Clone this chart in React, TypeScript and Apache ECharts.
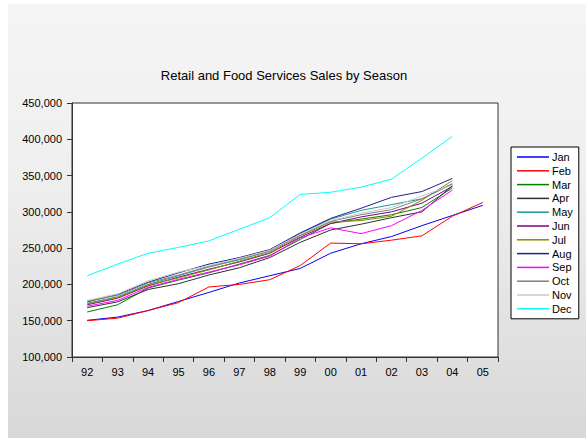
import React, { useEffect, useRef } from "react";
import * as echarts from "echarts";

const years = ["92", "93", "94", "95", "96", "97", "98", "99", "00", "01", "02", "03", "04", "05"];
const yTicks = [100000, 450000, 50000];

const jan = [150500, 155000, 164000, 176500, 189000, 202000, 212000, 222000, 243000, 256000, 266000, 281000, 295000, 309000];
const feb = [150000, 153500, 164000, 175000, 196500, 200000, 206500, 226000, 257000, 256000, 261000, 267000, 294000, 313000];
const mar = [162000, 172000, 195000, 206000, 216000, 228000, 240000, 262000, 284000, 290000, 296000, 306000, 333000];
const apr = [168000, 176000, 193000, 201000, 213000, 223000, 237000, 258000, 275000, 283000, 292000, 300000, 336000];
const may = [174000, 183000, 200000, 212000, 224000, 234000, 246000, 270000, 290000, 302000, 310000, 318000, 338000];
const jun = [172000, 181000, 198000, 210000, 221000, 231000, 243000, 265000, 284000, 293000, 300000, 312000, 335000];
const jul = [173000, 182000, 199000, 209000, 220000, 232000, 244000, 267000, 286000, 288000, 294000, 316000, 343000];
const aug = [176000, 186000, 203000, 216000, 228000, 237000, 248000, 271000, 291000, 305000, 320000, 328000, 346000];
const sep = [170000, 178000, 196000, 207000, 217000, 227000, 239000, 264000, 278000, 270000, 281000, 302000, 330000];
const oct = [177000, 185000, 202000, 213000, 225000, 235000, 246000, 268000, 287000, 296000, 303000, 318000, 339000];
const nov = [178000, 187000, 205000, 217000, 226000, 236000, 247000, 269000, 288000, 298000, 306000, 322000, 337000];
const dec = [212000, 228000, 243000, 251000, 260000, 276000, 292000, 324000, 327000, 334000, 345000, 374000, 404000];

const seriesNames = ["Jan", "Feb", "Mar", "Apr", "May", "Jun", "Jul", "Aug", "Sep", "Oct", "Nov", "Dec"];
const seriesData = [jan, feb, mar, apr, may, jun, jul, aug, sep, oct, nov, dec];
const seriesColors = [
  "#0000ff", "#ff0000", "#008000", "#303030", "#1a9a9a", "#800080",
  "#8a8a00", "#20208a", "#ff00ff", "#808080", "#c8c8c8", "#00ffff",
];

const FONT = "'Liberation Sans', Arial, sans-serif";

export default function App() {
  const ref = useRef<HTMLDivElement>(null);

  useEffect(() => {
    if (!ref.current) return;
    const chart = echarts.init(ref.current, undefined, { renderer: "svg" });
    chart.setOption({
      animation: false,
      textStyle: { fontFamily: FONT },
      graphic: [
        {
          type: "text",
          x: 284,
          y: 75,
          style: {
            text: "Retail and Food Services Sales by Season",
            fontSize: 13,
            fontFamily: FONT,
            fill: "#000",
            textAlign: "center",
            textVerticalAlign: "middle",
          },
        },
      ],
      legend: {
        orient: "vertical",
        left: 511,
        top: 147,
        padding: [4, 6, 4, 6],
        itemWidth: 32,
        itemHeight: 1.5,
        itemGap: 1.8,
        icon: "rect",
        backgroundColor: "#fff",
        borderColor: "#000",
        borderWidth: 1,
        borderRadius: 0,
        textStyle: { fontSize: 11, color: "#000", fontFamily: FONT, lineHeight: 12, padding: [0, 0, 0, -2] },
        data: seriesNames,
      },
      grid: {
        left: 72,
        right: 88,
        top: 103,
        bottom: 81,
        show: true,
        backgroundColor: "#fff",
        borderColor: "#333",
        borderWidth: 1,
      },
      xAxis: {
        type: "category",
        data: years,
        boundaryGap: true,
        axisLine: { lineStyle: { color: "#333", width: 1 } },
        axisTick: { show: true, inside: false, length: 5, interval: 0, lineStyle: { color: "#333" } },
        axisLabel: { interval: 0, fontSize: 11, color: "#000", margin: 9, fontFamily: FONT },
        splitLine: { show: false },
      },
      yAxis: {
        type: "value",
        min: yTicks[0],
        max: yTicks[1],
        interval: yTicks[2],
        axisLine: { show: true, lineStyle: { color: "#333", width: 1 } },
        axisTick: { show: true, inside: false, length: 5, lineStyle: { color: "#333" } },
        axisLabel: {
          fontSize: 11,
          color: "#000",
          margin: 10,
          fontFamily: FONT,
          formatter: (v: number) => v.toLocaleString("en-US"),
        },
        splitLine: { show: false },
      },
      series: seriesNames.map((name, i) => ({
        name,
        type: "line",
        data: seriesData[i],
        symbol: "none",
        showSymbol: false,
        lineStyle: { color: seriesColors[i], width: 1 },
        itemStyle: { color: seriesColors[i] },
      })),
    });
    return () => chart.dispose();
  }, []);

  return (
    <div style={{ position: "fixed", left: 0, top: 0, width: 586, height: 438, background: "#fff" }}>
      <div
        style={{
          position: "absolute",
          left: 8,
          top: 4,
          right: 0,
          bottom: 0,
          background: "linear-gradient(to bottom, #f5f5f5 0%, #efefef 40%, #d8d8d8 100%)",
        }}
      />
      <div ref={ref} style={{ position: "absolute", left: 0, top: 0, width: 586, height: 438 }} />
    </div>
  );
}
